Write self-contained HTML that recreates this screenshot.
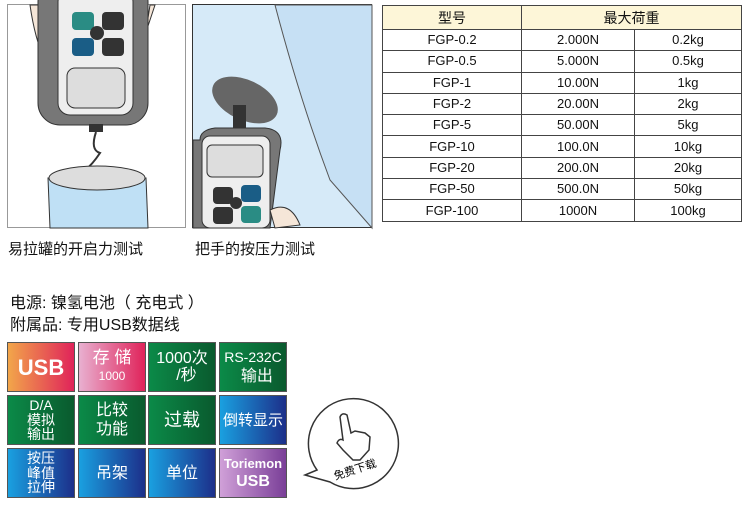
<!DOCTYPE html>
<html><head><meta charset="utf-8"><style>
body{margin:0;width:750px;height:513px;background:#fff;position:relative;overflow:hidden;font-family:"Liberation Sans","Noto Sans CJK SC",sans-serif;color:#111}
.abs{position:absolute}
table{position:absolute;left:382px;top:5px;border-collapse:collapse;font-size:13px}
td{border:1px solid #444;text-align:center;height:20.3px;padding:0;line-height:20px}
th{border:1px solid #444;background:#fdf6d8;font-weight:normal;height:21px;font-size:14px}
.t{position:absolute;width:68px;height:50px;color:#fff;text-align:center;display:flex;flex-direction:column;justify-content:center;align-items:center;font-size:15px;line-height:17px;border:1px solid #555;box-sizing:border-box}
.g{background:linear-gradient(90deg,#0b8a48,#0a5a2e)}
.b{background:linear-gradient(90deg,#1aa0e0,#1c2f8a)}
</style></head><body>
<svg class="abs" style="left:0;top:0" width="380" height="235">
<rect x="7.5" y="4.5" width="178" height="223" fill="#fff" stroke="#999"/>
<path d="M30 5 Q35 40 45 60 L40 5Z" fill="#f5e6d8" stroke="#333"/>
<path d="M150 5 Q145 40 140 50 L155 5Z" fill="#f5e6d8" stroke="#333"/>
<rect x="38" y="-20" width="110" height="145" rx="22" fill="#777" stroke="#333"/>
<rect x="58" y="-10" width="75" height="125" rx="12" fill="#eee" stroke="#333"/>
<rect x="67" y="68" width="58" height="40" rx="8" fill="#ddd" stroke="#333"/>
<rect x="72" y="12" width="22" height="18" rx="4" fill="#2a8c84"/><rect x="102" y="12" width="22" height="18" rx="4" fill="#333"/>
<rect x="72" y="38" width="22" height="18" rx="4" fill="#1a5d86"/><rect x="102" y="38" width="22" height="18" rx="4" fill="#333"/>
<circle cx="97" cy="33" r="7" fill="#333"/>
<rect x="89" y="124" width="14" height="8" fill="#333"/>
<path d="M96 132 Q90 150 100 153 Q92 165 85 170 L85 180 L98 185" fill="none" stroke="#333" stroke-width="2"/>
<path d="M48 178 L50 228 L148 228 L146 178 Z" fill="#bfe0f5" stroke="#333"/>
<ellipse cx="97" cy="178" rx="48" ry="12" fill="#ddd" stroke="#333"/>
<rect x="192.5" y="4.5" width="179" height="223" fill="#d6eaf8" stroke="#333"/>
<path d="M275 5 Q300 100 330 180 L372 228 L372 5Z" fill="#c6e0f4" stroke="#555"/>
<ellipse cx="245" cy="100" rx="35" ry="20" fill="#666" transform="rotate(25 245 100)"/>
<rect x="233" y="105" width="13" height="30" fill="#333"/>
<path d="M200 140 Q200 130 215 128 L265 128 Q285 130 280 150 L270 228 L193 228 L193 140Z" fill="#777" stroke="#333"/>
<rect x="202" y="136" width="68" height="92" rx="8" fill="#eee" stroke="#333"/>
<rect x="207" y="145" width="56" height="32" rx="5" fill="#ddd" stroke="#333"/>
<rect x="213" y="187" width="20" height="17" rx="4" fill="#333"/><rect x="241" y="185" width="20" height="17" rx="4" fill="#1a5d86"/>
<rect x="213" y="207" width="20" height="17" rx="4" fill="#333"/><rect x="241" y="206" width="20" height="17" rx="4" fill="#2a8c84"/>
<circle cx="236" cy="203" r="6" fill="#333"/>
<path d="M270 210 Q290 200 300 225 L275 228Z" fill="#f5e6d8" stroke="#333"/>
</svg>
<div class="abs" style="left:8px;top:238px;font-size:15px">易拉罐的开启力测试</div>
<div class="abs" style="left:195px;top:238px;font-size:15px">把手的按压力测试</div>
<div class="abs" style="left:10px;top:293px;font-size:16px;line-height:22px">电源: 镍氢电池（ 充电式 ）<br>附属品: 专用USB数据线</div>
<table>
<tr><th style="width:136px">型号</th><th colspan="2">最大荷重</th></tr>
<tr><td>FGP-0.2</td><td style="width:112px">2.000N</td><td style="width:106px">0.2kg</td></tr>
<tr><td>FGP-0.5</td><td>5.000N</td><td>0.5kg</td></tr>
<tr><td>FGP-1</td><td>10.00N</td><td>1kg</td></tr>
<tr><td>FGP-2</td><td>20.00N</td><td>2kg</td></tr>
<tr><td>FGP-5</td><td>50.00N</td><td>5kg</td></tr>
<tr><td>FGP-10</td><td>100.0N</td><td>10kg</td></tr>
<tr><td>FGP-20</td><td>200.0N</td><td>20kg</td></tr>
<tr><td>FGP-50</td><td>500.0N</td><td>50kg</td></tr>
<tr><td>FGP-100</td><td>1000N</td><td>100kg</td></tr>
</table>
<div class="t" style="left:7px;top:342px;background:linear-gradient(90deg,#f2a64a,#e0235a);font-size:22px;font-weight:bold">USB</div>
<div class="t" style="left:78px;top:342px;background:linear-gradient(90deg,#e8b0d0,#e0235a);font-size:17px;line-height:19px">存 储<span style="font-size:12px">1000</span></div>
<div class="t g" style="left:148px;top:342px;font-size:16px"><div>1000次<br>&nbsp;&nbsp;/秒</div></div>
<div class="t g" style="left:219px;top:342px;font-size:14px;line-height:19px"><div>RS-232C<br>&nbsp;&nbsp;<span style="font-size:16px">输出</span></div></div>
<div class="t g" style="left:7px;top:395px;font-size:14px;line-height:14.5px">D/A<br>模拟<br>输出</div>
<div class="t g" style="left:78px;top:395px;font-size:16px;line-height:19px">比较<br>功能</div>
<div class="t g" style="left:148px;top:395px;font-size:18px">过载</div>
<div class="t b" style="left:219px;top:395px;font-size:15px">倒转显示</div>
<div class="t b" style="left:7px;top:448px;font-size:14px;line-height:14.5px">按压<br>峰值<br>拉伸</div>
<div class="t b" style="left:78px;top:448px;font-size:16px">吊架</div>
<div class="t b" style="left:148px;top:448px;font-size:16px">单位</div>
<div class="t" style="left:219px;top:448px;background:linear-gradient(90deg,#d0a0d8,#7a3f98);font-weight:bold;font-size:13px;line-height:18px">Toriemon<br><span style="font-size:16px">USB</span></div>
<svg class="abs" style="left:295px;top:395px" width="105" height="100">
<path d="M22 75 A45 45 0 1 1 35 87 L10 80 Z" fill="#fff" stroke="#333" stroke-width="1.5"/>
<path d="M48 45 L45 22 Q47 17 52 20 L56 38 L60 36 L70 38 L75 42 L74 55 L65 65 L58 65 L48 55 L42 48 Q44 43 48 45Z" fill="#fff" stroke="#333" stroke-width="1.5"/>
<text x="38" y="79" font-size="11" transform="rotate(-18 58 75)" font-family="Liberation Sans,Noto Sans CJK SC,sans-serif">免费下载</text>
</svg>
</body></html>
